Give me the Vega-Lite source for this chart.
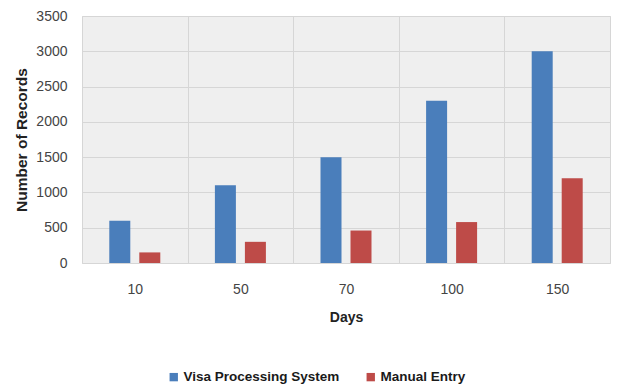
{
  "$schema": "https://vega.github.io/schema/vega-lite/v6.json",
  "autosize": "none",
  "width": 528,
  "height": 247,
  "padding": {"left": 82, "top": 16, "right": 7, "bottom": 126},
  "background": "white",
  "config": {
    "font": "Liberation Sans",
    "view": {"fill": "#efefef", "stroke": "#d6d6d6", "strokeWidth": 1}
  },
  "data": {
    "values": [
      {"days": "10", "series": "Visa Processing System", "records": 600},
      {"days": "10", "series": "Manual Entry", "records": 150},
      {"days": "50", "series": "Visa Processing System", "records": 1100},
      {"days": "50", "series": "Manual Entry", "records": 300},
      {"days": "70", "series": "Visa Processing System", "records": 1500},
      {"days": "70", "series": "Manual Entry", "records": 460},
      {"days": "100", "series": "Visa Processing System", "records": 2300},
      {"days": "100", "series": "Manual Entry", "records": 580},
      {"days": "150", "series": "Visa Processing System", "records": 3000},
      {"days": "150", "series": "Manual Entry", "records": 1200}
    ]
  },
  "mark": {"type": "bar"},
  "encoding": {
    "x": {
      "field": "days",
      "type": "nominal",
      "sort": null,
      "scale": {"paddingInner": 0, "paddingOuter": 0},
      "axis": {
        "title": "Days",
        "titleFontSize": 14,
        "titleFontWeight": "bold",
        "titleColor": "#222222",
        "titlePadding": 14,
        "labelAngle": 0,
        "labelFontSize": 14,
        "labelColor": "#444444",
        "labelPadding": 19,
        "ticks": false,
        "domain": false,
        "grid": true,
        "tickBand": "extent",
        "gridColor": "#d6d6d6",
        "gridWidth": 1
      }
    },
    "xOffset": {
      "field": "series",
      "type": "nominal",
      "sort": ["Visa Processing System", "Manual Entry"],
      "scale": {"paddingInner": 0.3, "paddingOuter": 0.91}
    },
    "y": {
      "field": "records",
      "type": "quantitative",
      "scale": {"domain": [0, 3500]},
      "axis": {
        "title": "Number of Records",
        "titleFontSize": 15.5,
        "titleFontWeight": "bold",
        "titleColor": "#222222",
        "titlePadding": 6,
        "format": "d",
        "values": [0, 500, 1000, 1500, 2000, 2500, 3000, 3500],
        "labelFontSize": 14,
        "labelColor": "#444444",
        "labelPadding": 15,
        "ticks": false,
        "domain": false,
        "gridColor": "#d6d6d6",
        "gridWidth": 1
      }
    },
    "color": {
      "field": "series",
      "type": "nominal",
      "sort": ["Visa Processing System", "Manual Entry"],
      "scale": {
        "domain": ["Visa Processing System", "Manual Entry"],
        "range": ["#4a7ebb", "#be4b48"]
      },
      "legend": {
        "title": null,
        "orient": "none",
        "legendX": 85,
        "legendY": 354,
        "direction": "horizontal",
        "symbolType": "square",
        "symbolSize": 70,
        "symbolStrokeWidth": 0,
        "symbolOpacity": 1,
        "labelFontSize": 13.5,
        "labelFontWeight": "bold",
        "labelColor": "#1a1a1a",
        "labelLimit": 300,
        "labelOffset": 3,
        "columnPadding": 24
      }
    }
  }
}
